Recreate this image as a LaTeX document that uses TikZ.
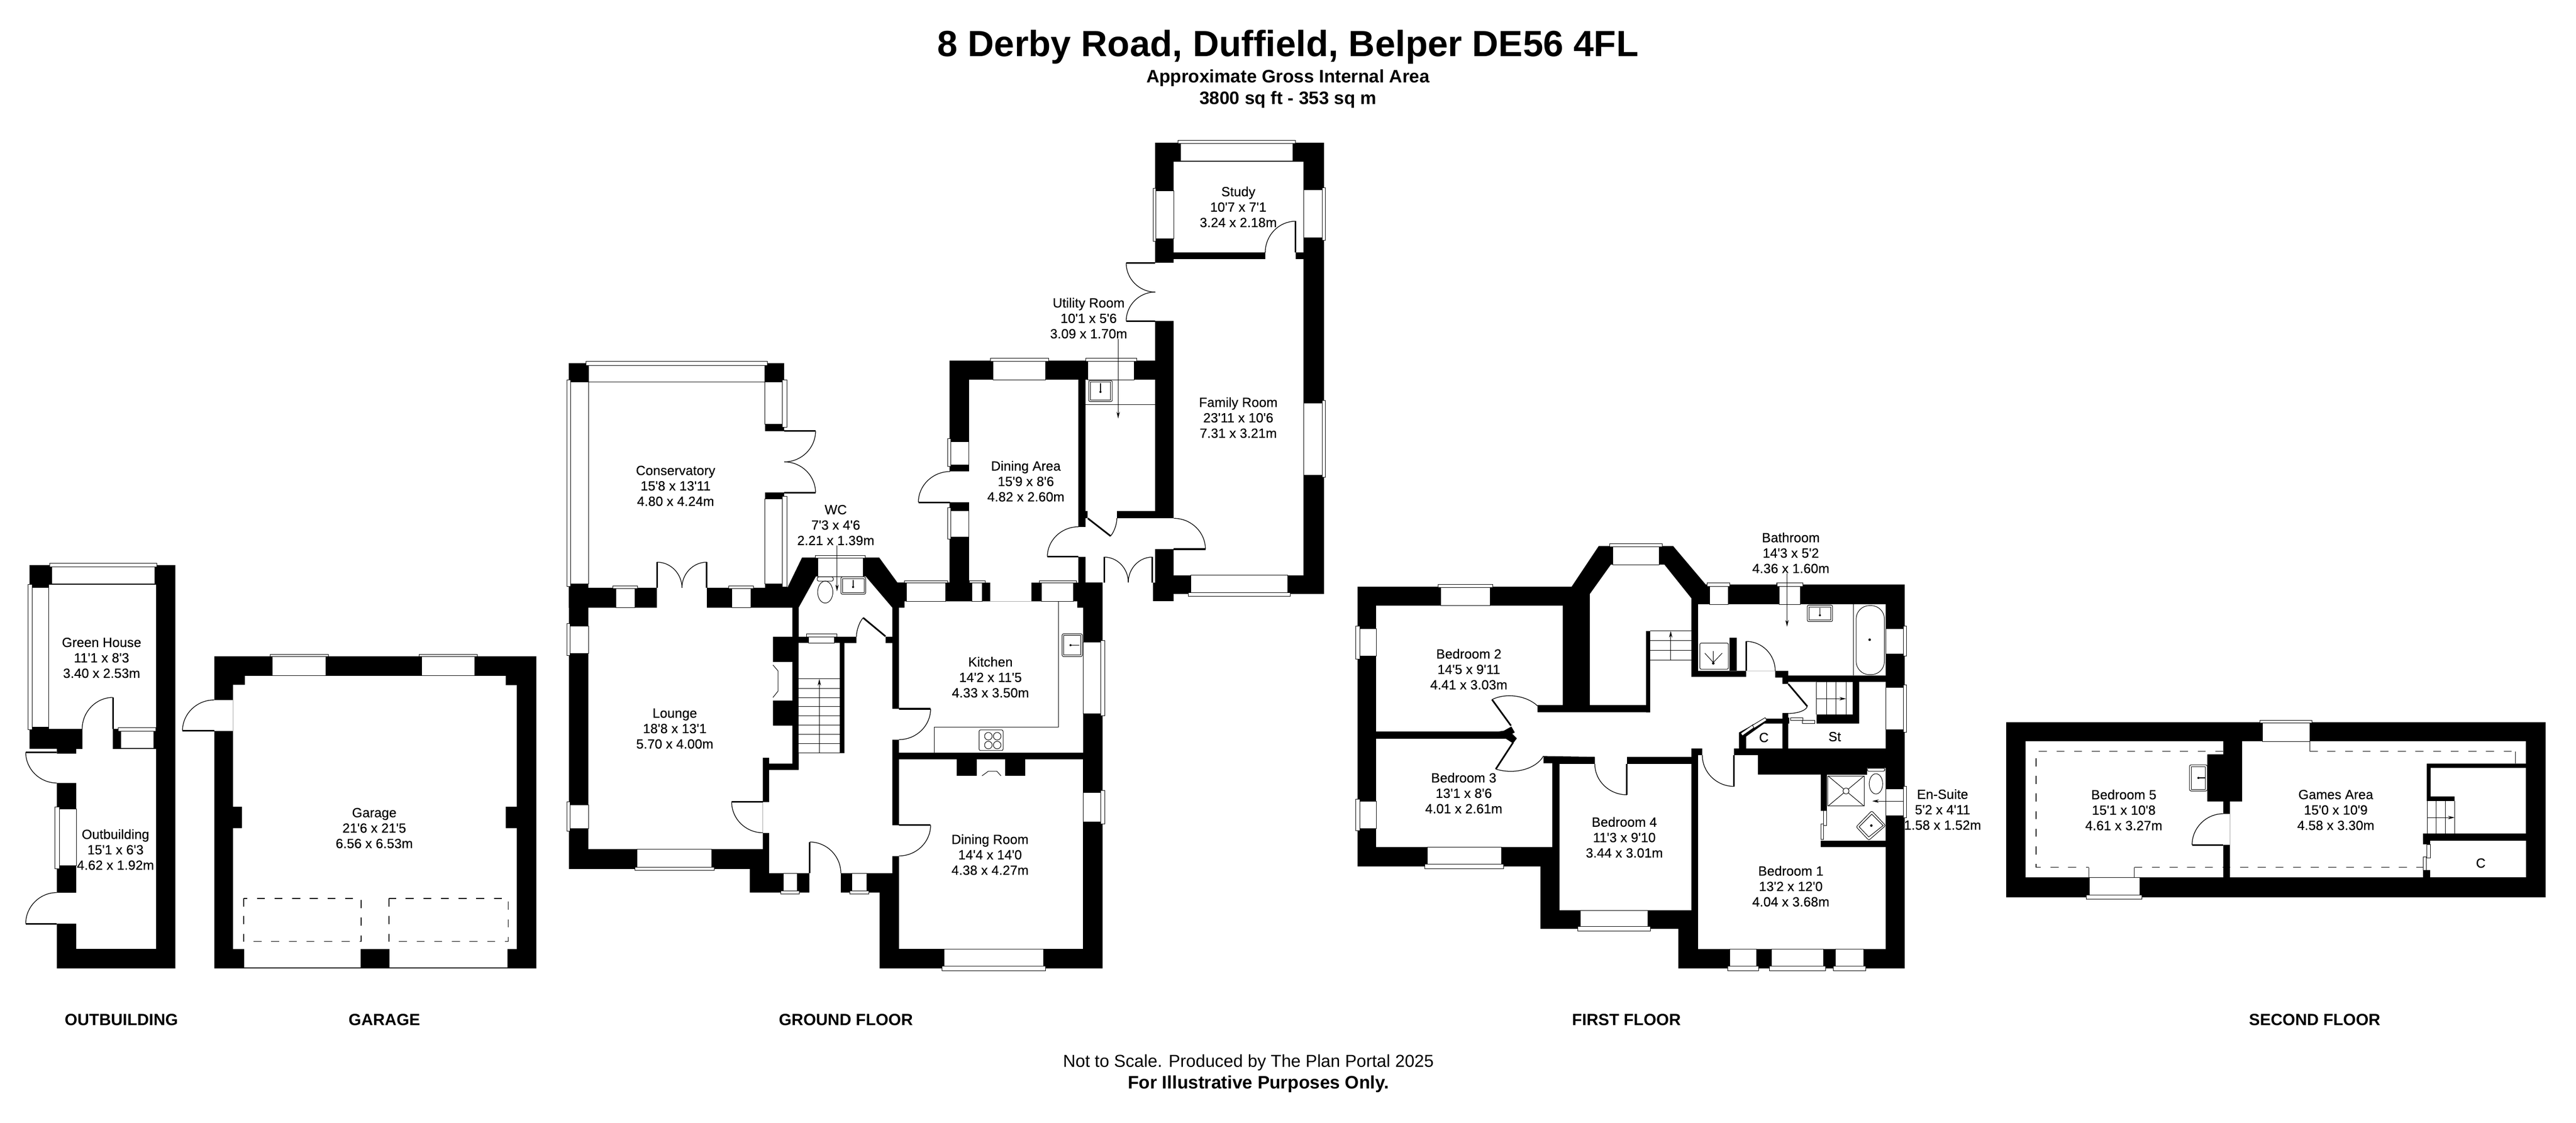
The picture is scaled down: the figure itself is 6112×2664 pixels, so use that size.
\documentclass[tikz,border=0pt]{standalone}
\usepackage{fontspec}
\usetikzlibrary{calc,arrows.meta}
\newfontfamily\planfont{Liberation Sans}
\newfontfamily\labelfont[FakeBold=.12]{Liberation Sans}
\tikzset{x=.01cm, y=-.01cm,
         wall/.style={fill=black},
         room/.style={fill=white},
         pane/.style={fill=white, draw=black, line width=.3pt},
         sill/.style={fill=white, draw=black, line width=.35pt},
         leaf/.style={line width=1.1pt},
         swing/.style={line width=.45pt},
         fixture/.style={fill=white, draw=black, line width=.35pt, rounded corners=1pt},
         thinline/.style={line width=.35pt},
         dashline/.style={line width=.55pt, dash pattern=on 5.4pt off 6.5pt},
         leader/.style={line width=.35pt, -{Stealth[length=4.5pt,width=2.2pt]}},
         label/.style={align=center, inner sep=0pt, font=\fontsize{9}{10.4}\selectfont\labelfont},
         heading/.style={align=center, inner sep=0pt, font=\fontsize{11}{13}\selectfont\planfont\bfseries},
         subheading/.style={align=center, inner sep=0pt, font=\fontsize{12.2}{14.4}\selectfont\planfont\bfseries},
         footnote/.style={align=center, inner sep=0pt, font=\fontsize{11.7}{13}\selectfont\planfont}}

\begin{document}
\begin{tikzpicture}
  \useasboundingbox (0,0) rectangle (6112,2664);

  % outbuilding and garage
  \fill[wall] (70,1341) -- (416,1341) -- (416,2298) -- (135,2298) -- (135,1777) -- (70,1777) -- cycle;
  \fill[wall] (508,1557) rectangle (1272,2298);
  \fill[room] (116,1387) rectangle (370,1730);
  \fill[room] (181,1777) rectangle (370,2252);
  \fill[room] (195,1730) rectangle (268,1777);
  \fill[room] (135,1788) rectangle (181,1858);
  \fill[room] (135,2118) rectangle (181,2192);
  \fill[room] (581,1604) -- (1200,1604) -- (1200,1626) -- (1226,1626) -- (1226,1914) -- (1200,1914) -- (1200,1965)
    -- (1226,1965) -- (1226,2252) -- (553,2252) -- (553,1965) -- (574,1965) -- (574,1914) -- (553,1914) -- (553,1625) -- (581,1625) -- cycle;
  \fill[room] (508,1661) rectangle (553,1734);
  \fill[room] (579,2252) rectangle (856,2296);
  \fill[room] (924,2252) rectangle (1204,2296);
  \draw[dashline] (578,2132) rectangle (857,2234);
  \draw[dashline] (923,2132) rectangle (1206,2234);

  % ground floor
  \fill[wall] (1350,862) rectangle (1861,1442);
  \fill[wall] (1350,1395) -- (1869,1393) -- (1903,1323) -- (2086,1323) -- (2129,1382) -- (2616,1382) -- (2616,2298)
    -- (2087,2298) -- (2087,2118) -- (1779,2118) -- (1779,2062) -- (1350,2062) -- cycle;
  \fill[wall] (2253,856) rectangle (2741,901);
  \fill[wall] (2253,856) rectangle (2299,1382);
  \fill[wall] (2559,856) rectangle (2575,1250);
  \fill[wall] (2559,1321) rectangle (2575,1382);
  \fill[wall] (2650,1213) rectangle (2741,1230);
  \fill[wall] (2575,1213) rectangle (2581,1230);
  \fill[wall] (2741,338) rectangle (3141,1410);
  \fill[wall] (2736,1382) rectangle (2785,1427);
  \fill[room] (1396,906) rectangle (1815,1395);
  \fill[room] (1815,1023) rectangle (1861,1169);
  \fill[room] (1559,1395) rectangle (1677,1442);
  \fill[room] (1396,1442) -- (1880,1442) -- (1880,1511) -- (1834,1511) -- (1834,1722) -- (1880,1722) -- (1880,1812) -- (1825,1812)
    -- (1825,1798) -- (1810,1798) -- (1810,2015) -- (1396,2015) -- cycle;
  \fill[room] (1834,1571) rectangle (1880,1662);
  \fill[room] (1810,1903) rectangle (1825,1976);
  \fill[room] (1895,1526) rectangle (1992,1787);
  \fill[room] (1895,1442) -- (1936,1368) -- (2054,1368) -- (2117,1442) -- (2117,1511) -- (2101,1511) -- (2101,1526) -- (2117,1526)
    -- (2117,2072) -- (1825,2072) -- (1825,1827) -- (1895,1827) -- (1895,1787) -- (2003,1787) -- (2003,1526) -- (2032,1526) -- (2032,1511) -- (1895,1511) -- cycle;
  \fill[room] (1920,2072) rectangle (1995,2118);
  \fill[room] (2117,1682) rectangle (2133,1755);
  \fill[room] (2117,1958) rectangle (2133,2031);
  \fill[room] (2146,1427) -- (2556,1427) -- (2556,1442) -- (2570,1442) -- (2570,1786) -- (2133,1786) -- (2133,1442) -- (2146,1442) -- cycle;
  \fill[room] (2349,1382) rectangle (2447,1427);
  \fill[room] (2133,1802) rectangle (2570,2252);
  \fill[wall] (2270,1802) rectangle (2433,1841);
  \fill[room] (2318,1802) rectangle (2385,1841);
  \fill[room] (2299,901) rectangle (2559,1382);
  \fill[room] (2253,1119) rectangle (2299,1192);
  \fill[room] (2559,1250) rectangle (2575,1321);
  \fill[room] (2575,901) rectangle (2741,1213);
  \fill[room] (2785,384) rectangle (3093,599);
  \fill[room] (2785,615) rectangle (3093,1365);
  \fill[room] (3002,599) rectangle (3074,615);
  \fill[room] (2741,624) rectangle (2785,762);
  \fill[room] (2741,1230) rectangle (2785,1303);

  % first floor
  \fill[wall] (3221,1392) -- (3729,1392) -- (3793,1296) -- (3970,1296) -- (4047,1387) -- (4519,1387) -- (4519,2298) -- (3982,2298)
    -- (3982,2204) -- (3655,2204) -- (3655,2056) -- (3221,2056) -- cycle;
  \fill[room] (3265,1437) -- (3708,1437) -- (3708,1673) -- (3648,1673) -- (3648,1690) -- (3906,1690) -- (3906,1673) -- (3772,1673) -- (3772,1410)
    -- (3822,1340) -- (3949,1340) -- (4013,1420) -- (4013,1606) -- (4143,1606) -- (4143,1592) -- (4212,1592) -- (4212,1608) -- (4229,1608) -- (4229,1623)
    -- (4243,1623) -- (4243,1618) -- (4310,1618) -- (4310,1703) -- (4243,1703) -- (4243,1692) -- (4229,1692) -- (4229,1705) -- (4186,1705) -- (4126,1738)
    -- (4126,1776) -- (4114,1776) -- (4114,1792) -- (4039,1792) -- (4039,1776) -- (4013,1776) -- (4013,1796) -- (3860,1796) -- (3860,1813) -- (3784,1813)
    -- (3784,1796) -- (3662,1794) -- (3662,1811) -- (3683,1811) -- (3683,2010) -- (3265,2010) -- cycle;
  \fill[wall] (3265,1736) -- (3554,1736) -- (3568,1734) -- (3586,1724) -- (3594,1738) -- (3588,1741) -- (3599,1752) -- (3590,1764) -- (3573,1753) -- (3265,1753) -- cycle;
  \fill[wall] (3906,1497) rectangle (3915,1690);
  \fill[room] (3700,1813) rectangle (4013,2160);
  \fill[room] (4029,1434) -- (4474,1434) -- (4474,1603) -- (4243,1603) -- (4243,1592) -- (4029,1592) -- cycle;
  \fill[wall] (4104,1513) rectangle (4121,1592);
  \fill[room] (4411,1618) -- (4474,1618) -- (4474,1776) -- (4243,1776) -- (4243,1717) -- (4411,1717) -- cycle;
  \fill[room] (4310,1618) rectangle (4396,1696);
  \fill[room] (4245,1703) rectangle (4310,1717);
  \fill[room] (4143,1748) -- (4186,1717) -- (4229,1717) -- (4229,1776) -- (4143,1776) -- cycle;
  \fill[room] (4029,1792) -- (4171,1792) -- (4171,1838) -- (4320,1838) -- (4320,2010) -- (4474,2010) -- (4474,2252) -- (4029,2252) -- cycle;
  \fill[wall] (4320,1995) rectangle (4474,2010);
  \fill[room] (4334,1838) rectangle (4474,1995);
  \fill[room] (4320,1924) rectangle (4334,1995);
  \fill[room] (4430,1822) rectangle (4474,1838);
  \draw[sill] (4130,1740) -- (4160,1719) -- (4164,1725) -- (4134,1746) -- cycle;
  \draw[sill] (4158,1721) -- (4188,1703) -- (4192,1709) -- (4162,1728) -- cycle;
  \draw[sill] (4327,1924) rectangle (4334,1959);
  \draw[sill] (4320,1955) rectangle (4327,1992);
  \draw[sill] (4248,1703) rectangle (4278,1710);
  \draw[sill] (4276,1710) rectangle (4306,1717);

  % second floor
  \fill[wall] (4760,1714) rectangle (6040,2129);
  \fill[room] (4806,1759) -- (5275,1759) -- (5275,1790) -- (5237,1790) -- (5237,1902) -- (5275,1902) -- (5275,2082) -- (4806,2082) -- cycle;
  \fill[room] (5320,1759) -- (5993,1759) -- (5993,1812) -- (5758,1812) -- (5758,1978) -- (5749,1978) -- (5749,2082) -- (5291,2082) -- (5291,1902) -- (5320,1902) -- cycle;
  \fill[room] (5275,1931) rectangle (5291,2005);
  \fill[room] (5767,1822) -- (5993,1822) -- (5993,1978) -- (5824,1978) -- (5824,1890) -- (5767,1890) -- cycle;
  \fill[room] (5758,1901) rectangle (5824,1978);
  \fill[wall] (5749,1978) rectangle (5993,1995);
  \fill[room] (5766,1995) rectangle (5993,2082);
  \fill[room] (5749,2004) rectangle (5766,2065);
  \draw[sill] (5758,2004) rectangle (5766,2036);
  \draw[sill] (5749,2033) rectangle (5757,2065);
  \draw[dashline] (5275,1783) -- (4831,1783) -- (4831,2058) -- (4956,2058);
  \draw[dashline] (5064,2058) -- (5749,2058);
  \draw[dashline] (5480,1783) -- (5968,1783);
  \draw[thinline] (4956,2058) -- (4956,2082) (5064,2058) -- (5064,2082) (5480,1759) -- (5480,1783) (5968,1783) -- (5968,1812);

  % windows: pane, then sill
  \foreach \xa/\ya/\xb/\yb/\xc/\yc/\xd/\yd in {
      123/1341/367/1386/118/1337/372/1345, 70/1394/116/1725/67/1387/76/1732, 286/1734/365/1775/280/1727/370/1735,
      135/1920/181/2054/130/1915/141/2061, 646/1557/773/1603/641/1553/779/1558, 1000/1557/1126/1603/995/1553/1132/1558,
      1396/862/1815/906/1391/857/1821/867, 1350/906/1396/1385/1345/902/1354/1392, 1815/906/1861/1007/1856/902/1867/1014,
      1815/1184/1861/1385/1856/1178/1867/1393, 1461/1395/1507/1442/1454/1390/1513/1396, 1736/1395/1782/1442/1729/1390/1788/1396,
      1350/1486/1396/1551/1345/1480/1352/1556, 1350/1910/1396/1966/1345/1903/1352/1972, 1511/2015/1689/2062/1506/2058/1695/2065,
      1858/2072/1892/2118/1853/2114/1897/2122, 2021/2072/2057/2118/2016/2114/2062/2122, 1919/1511/1979/1526/1914/1504/1986/1511,
      1941/1323/2048/1368/1935/1318/2053/1324, 2151/1382/2244/1427/2146/1378/2249/1383, 2306/1382/2331/1427/2300/1378/2338/1383,
      2471/1382/2547/1427/2466/1378/2554/1383, 2570/1524/2616/1693/2612/1520/2621/1698, 2570/1881/2616/1950/2612/1876/2621/1955,
      2240/2252/2476/2298/2235/2293/2481/2303, 2356/856/2481/901/2350/850/2488/857, 2581/856/2691/901/2576/850/2697/857,
      2253/1048/2299/1103/2248/1041/2256/1107, 2253/1212/2299/1274/2248/1205/2256/1279, 2801/338/3067/382/2795/333/3074/340,
      2741/453/2785/566/2736/447/2743/573, 3093/450/3141/564/3137/445/3145/570, 3093/956/3141/1127/3137/951/3145/1132,
      2825/1365/3055/1410/2819/1406/3061/1415, 3418/1392/3536/1437/3412/1387/3542/1394, 3221/1492/3265/1557/3217/1486/3227/1564,
      3221/1901/3265/1966/3217/1896/3227/1971, 3387/2010/3562/2056/3380/2050/3568/2061, 3750/2160/3910/2204/3744/2199/3916/2210,
      3826/1296/3937/1340/3819/1290/3944/1297, 4056/1387/4100/1434/4050/1383/4104/1392, 4222/1387/4272/1434/4216/1383/4278/1392,
      4474/1492/4519/1552/4516/1486/4523/1557, 4474/1631/4519/1732/4516/1625/4523/1738, 4474/1872/4519/1936/4516/1866/4523/1941,
      4104/2252/4168/2298/4099/2293/4173/2303, 4203/2252/4326/2298/4198/2293/4331/2303, 4355/2252/4422/2298/4350/2293/4427/2303,
      5368/1714/5480/1759/5362/1709/5486/1716, 4957/2082/5077/2129/4950/2124/5082/2134} {
    \draw[pane] (\xa,\ya) rectangle (\xb,\yb);
    \draw[sill] (\xc,\yc) rectangle (\xd,\yd);
  }

  % door leaves
  \foreach \xa/\ya/\xb/\yb in {
      268/1655/268/1730, 61/1785/135/1785, 61/2192/135/2192, 433/1734/508/1734, 1861/1023/1935/1023, 1861/1169/1935/1169,
      1559/1334/1559/1395, 1677/1334/1677/1395, 2101/1510/2048/1466, 2133/1682/2208/1682, 2133/1958/2208/1958, 1736/1903/1810/1903,
      1921/1998/1921/2072, 2179/1192/2254/1192, 2485/1321/2559/1321, 2581/1230/2635/1272, 2785/1303/2860/1303, 2620/1322/2620/1382,
      2734/1322/2734/1382, 3074/525/3074/599, 2672/624/2741/624, 2672/762/2741/762, 3540/1660/3585/1722, 3590/1762/3549/1825,
      3860/1813/3860/1886, 4114/1792/4114/1866, 4143/1522/4143/1592, 4243/1623/4288/1676, 5201/2005/5275/2005} {
    \draw[leaf] (\xa,\ya) -- (\xb,\yb);
  }

  % door swings: start, end, corner
  \foreach \xa/\ya/\xb/\yb/\xc/\yc in {
      268/1655/195/1730/195/1655, 61/1785/135/1858/61/1858, 135/2118/61/2192/61/2118, 508/1661/433/1734/433/1661,
      1935/1023/1861/1096/1935/1096, 1861/1096/1935/1169/1935/1096, 1559/1334/1618/1395/1618/1334, 1677/1334/1618/1395/1618/1334,
      2048/1466/2032/1511/2032/1483, 2208/1682/2133/1755/2208/1755, 2208/1958/2133/2031/2208/2031, 1736/1903/1810/1976/1736/1976,
      1921/1998/1995/2072/1995/1998, 2254/1119/2179/1192/2179/1119, 2559/1250/2485/1321/2485/1250, 2635/1272/2650/1230/2650/1255,
      2785/1230/2860/1303/2860/1230, 2620/1322/2677/1382/2677/1322, 2734/1322/2677/1382/2677/1322, 3074/525/3002/599/3002/525,
      2672/624/2741/693/2672/693, 2741/693/2672/762/2672/693, 3540/1660/3648/1675/3600/1630, 3549/1825/3662/1794/3630/1850,
      3860/1886/3784/1813/3784/1886, 4114/1866/4039/1792/4039/1866, 4143/1522/4212/1592/4212/1522, 4288/1676/4243/1693/4285/1693,
      5275/1931/5201/2005/5201/1931} {
    \draw[swing] (\xa,\ya) .. controls ($(\xa,\ya)!.55!(\xc,\yc)$) and ($(\xb,\yb)!.55!(\xc,\yc)$) .. (\xb,\yb);
  }

  % stairs
  \foreach \y in {1611,1634,1656,1677,1698,1721,1743,1765,1787}
    \draw[thinline] (1895,\y) -- (1992,\y);
  \fill[wall] (1992,1526) rectangle (2003,1787);
  \draw[leader] (1944,1787) -- (1944,1611);
  \foreach \y in {1497,1520,1543,1566}
    \draw[thinline] (3915,\y) -- (4013,\y);
  \draw[leader] (3964,1566) -- (3964,1497);
  \foreach \x in {4310,4334,4356,4380}
    \draw[thinline] (\x,1618) -- (\x,1696);
  \draw[leader] (4310,1658) -- (4380,1658);
  \foreach \x in {5759,5780,5802,5824}
    \draw[thinline] (\x,1901) -- (\x,1978);
  \draw[leader] (5759,1940) -- (5824,1940);

  % basins: box, then tap
  \foreach \xa/\ya/\xb/\yb/\xt/\yt/\xu/\yu in {
      1995/1369/2054/1410/2024/1376/2024/1393, 2583/903/2639/953/2611/910/2611/930,
      2520/1504/2568/1558/2561/1531/2540/1531, 4288/1436/4348/1475/4318/1443/4318/1460,
      5195/1815/5237/1877/5232/1846/5216/1846} {
    \draw[fixture] (\xa,\ya) rectangle (\xb,\yb);
    \draw[thinline] (\xa+4,\ya+4) rectangle (\xb-4,\yb-4);
    \draw[line width=.6pt] (\xt,\yt) -- (\xu,\yu);
    \fill (\xu,\yu) circle[radius=2.5];
  }
  \draw[fixture] (4441,1924) -- (4474,1959) -- (4434,1994) -- (4404,1962) -- cycle;
  \draw[thinline] (4441,1932) -- (4468,1959) -- (4434,1986) -- (4411,1962) -- cycle;
  \fill (4440,1959) circle[radius=3];

  % other fittings
  \draw[fixture] (1939,1369) rectangle (1977,1379);
  \draw[thinline] (1958,1405) circle[x radius=18, y radius=26];
  \draw[fixture] (4430,1823) rectangle (4472,1830);
  \draw[thinline] (4451,1860) circle[x radius=16, y radius=24];
  \draw[thinline] (1834,1578) -- (1846,1592) -- (1846,1640) -- (1834,1655);
  \draw[thinline] (2330,1841) -- (2345,1830) -- (2365,1830) -- (2375,1841);
  \draw[thinline] (2511,1427) -- (2511,1726) -- (2217,1726) -- (2217,1786);
  \draw[fixture] (2323,1732) rectangle (2380,1781);
  \foreach \x/\y in {2345/1747, 2366/1747, 2345/1768, 2366/1768}
    \draw[thinline] (\x,\y) circle[radius=9];
  \draw[thinline] (2575,960) -- (2741,960);
  \draw[thinline] (4398,1434) -- (4398,1603);
  \draw[fixture, rounded corners=9pt] (4404,1437) rectangle (4471,1601);
  \fill (4436,1518) circle[radius=3];
  \draw[fixture] (4033,1526) rectangle (4101,1588);
  \draw[thinline] (4065,1572) -- (4065,1545) (4065,1572) -- (4045,1550) (4065,1572) -- (4086,1550);
  \fill (4065,1574) circle[radius=3];
  \draw[thinline] (4337,1841) rectangle (4423,1913);
  \draw[thinline] (4337,1841) -- (4423,1913) (4423,1841) -- (4337,1913);
  \draw[fill=white, thinline] (4380,1877) circle[radius=7];

  % room labels
  \node[label] (greenhouse) at (241,1561) {Green House\\11'1 x 8'3\\3.40 x 2.53m};
  \node[label] (outbuilding) at (274,2016) {Outbuilding\\15'1 x 6'3\\4.62 x 1.92m};
  \node[label] (garage) at (888,1965) {Garage\\21'6 x 21'5\\6.56 x 6.53m};
  \node[label] (conservatory) at (1603,1153) {Conservatory\\15'8 x 13'11\\4.80 x 4.24m};
  \node[label] (wc) at (1983,1246) {WC\\7'3 x 4'6\\2.21 x 1.39m};
  \node[label] (diningarea) at (2434,1142) {Dining Area\\15'9 x 8'6\\4.82 x 2.60m};
  \node[label] (kitchen) at (2350,1607) {Kitchen\\14'2 x 11'5\\4.33 x 3.50m};
  \node[label] (lounge) at (1601,1729) {Lounge\\18'8 x 13'1\\5.70 x 4.00m};
  \node[label] (diningroom) at (2349,2028) {Dining Room\\14'4 x 14'0\\4.38 x 4.27m};
  \node[label] (study) at (2938,491) {Study\\10'7 x 7'1\\3.24 x 2.18m};
  \node[label] (utility) at (2583,755) {Utility Room\\10'1 x 5'6\\3.09 x 1.70m};
  \node[label] (family) at (2938,991) {Family Room\\23'11 x 10'6\\7.31 x 3.21m};
  \node[label] (bedtwo) at (3485,1588) {Bedroom 2\\14'5 x 9'11\\4.41 x 3.03m};
  \node[label] (bedthree) at (3473,1882) {Bedroom 3\\13'1 x 8'6\\4.01 x 2.61m};
  \node[label] (bedfour) at (3854,1987) {Bedroom 4\\11'3 x 9'10\\3.44 x 3.01m};
  \node[label] (bedone) at (4249,2103) {Bedroom 1\\13'2 x 12'0\\4.04 x 3.68m};
  \node[label] (bathroom) at (4249,1312) {Bathroom\\14'3 x 5'2\\4.36 x 1.60m};
  \node[label] (ensuite) at (4609,1921) {En-Suite\\5'2 x 4'11\\1.58 x 1.52m};
  \node[label] (cupboard) at (4185,1750) {C};
  \node[label] (store) at (4353,1748) {St};
  \node[label] (bedfive) at (5039,1922) {Bedroom 5\\15'1 x 10'8\\4.61 x 3.27m};
  \node[label] (games) at (5542,1922) {Games Area\\15'0 x 10'9\\4.58 x 3.30m};
  \node[label] (closet) at (5886,2048) {C};

  % leaders
  \coordinate (wctip) at (1986,1403);
  \coordinate (utilitytip) at (2653,993);
  \coordinate (bathtip) at (4240,1487);
  \coordinate (ensuitetip) at (4442,1901);
  \draw[leader] (wc.south -| wctip) -- (wctip);
  \draw[leader] (utility.south -| utilitytip) -- (utilitytip);
  \draw[leader] (bathroom.south -| bathtip) -- (bathtip);
  \draw[leader] (ensuite.west |- ensuitetip) -- (ensuitetip);

  % headings
  \node[align=center, inner sep=0pt, font=\fontsize{24.6}{28}\selectfont\planfont\bfseries] (title) at (3056,111) {8 Derby Road, Duffield, Belper DE56 4FL};
  \node[subheading] (area) at (3056,211) {Approximate Gross Internal Area\\3800 sq ft - 353 sq m};
  \node[heading] (outlabel) at (288,2420) {OUTBUILDING};
  \node[heading] (garagelabel) at (912,2420) {GARAGE};
  \node[heading] (groundlabel) at (2007,2420) {GROUND FLOOR};
  \node[heading] (firstlabel) at (3859,2420) {FIRST FLOOR};
  \node[heading] (secondlabel) at (5492,2420) {SECOND FLOOR};
  \node[footnote] (scale) at (2962,2522) {Not to Scale. Produced by The Plan Portal 2025};
  \node[subheading] (purposes) at (2986,2573) {For Illustrative Purposes Only.};
\end{tikzpicture}
\end{document}
